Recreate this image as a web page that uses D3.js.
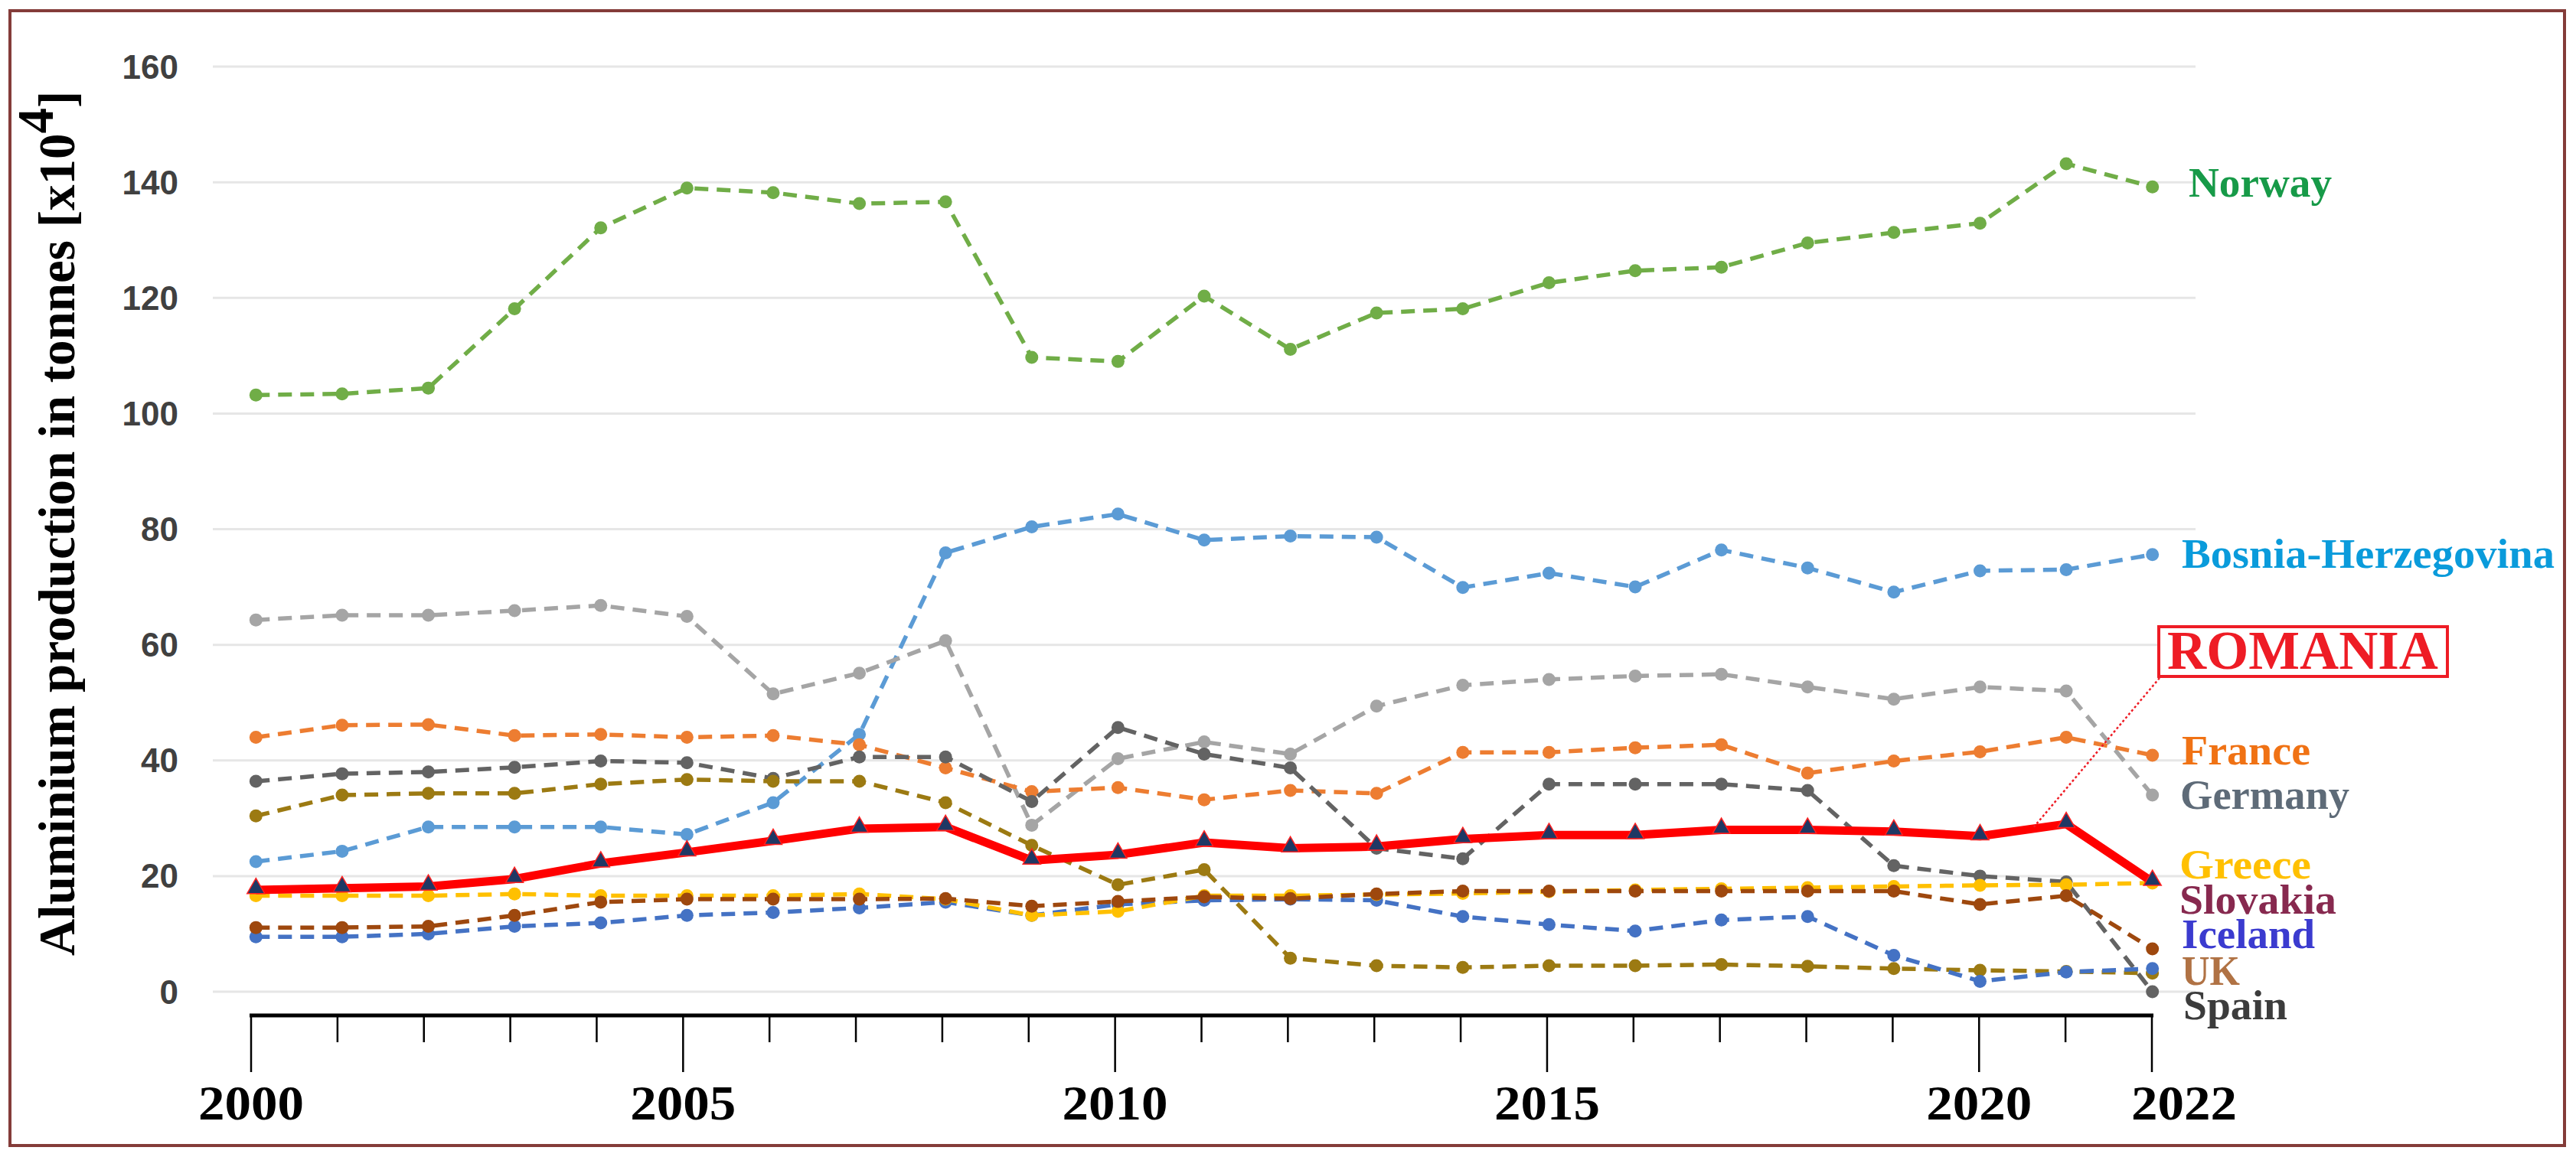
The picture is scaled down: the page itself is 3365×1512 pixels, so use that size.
<!DOCTYPE html>
<html><head><meta charset="utf-8">
<script src="https://cdn.jsdelivr.net/npm/d3@7/dist/d3.min.js"></script>
<style>html,body{margin:0;padding:0;background:#fff;} svg{display:block;}</style>
</head><body>
<script>
// ---------- DATA ----------
const years = [2000,2001,2002,2003,2004,2005,2006,2007,2008,2009,2010,2011,2012,2013,2014,2015,2016,2017,2018,2019,2020,2021,2022];
const norway   = [103.2,103.4,104.4,118.1,132.1,139.0,138.2,136.3,136.6,109.7,109.0,120.3,111.1,117.4,118.1,122.6,124.7,125.3,129.5,131.3,132.9,143.2,139.2];
const bosnia   = [22.5,24.3,28.5,28.5,28.5,27.2,32.7,44.5,75.9,80.4,82.6,78.1,78.8,78.6,69.9,72.4,70.0,76.4,73.3,69.1,72.8,73.0,75.6];
const germany  = [64.3,65.1,65.1,65.9,66.8,64.9,51.5,55.1,60.7,28.8,40.3,43.2,41.1,49.4,53.0,54.0,54.6,54.9,52.7,50.6,52.7,52.0,34.0];
const france   = [44.0,46.1,46.2,44.3,44.5,44.0,44.3,42.7,38.7,34.6,35.3,33.2,34.8,34.3,41.4,41.4,42.2,42.7,37.8,39.9,41.5,44.0,40.9];
const spain    = [36.4,37.7,38.0,38.8,39.9,39.6,36.9,40.6,40.6,32.9,45.7,41.1,38.7,24.8,23.0,35.9,35.9,35.9,34.8,21.8,20.0,19.0,0.0];
const uk       = [30.4,34.0,34.3,34.3,35.9,36.7,36.4,36.4,32.7,25.3,18.5,21.1,5.8,4.5,4.2,4.5,4.5,4.7,4.4,4.0,3.7,3.5,3.2];
const iceland  = [9.5,9.5,10.0,11.3,11.9,13.2,13.7,14.5,15.5,13.2,15.1,15.8,16.0,15.8,13.0,11.6,10.5,12.4,13.0,6.3,1.8,3.4,4.0];
const greece   = [16.6,16.6,16.6,16.9,16.6,16.6,16.6,16.9,16.0,13.2,13.9,16.6,16.6,16.8,17.0,17.3,17.6,17.8,18.0,18.2,18.4,18.5,18.8];
const slovakia = [11.1,11.1,11.3,13.2,15.5,16.0,16.0,16.0,16.1,14.8,15.6,16.4,16.1,16.9,17.4,17.4,17.4,17.4,17.4,17.4,15.1,16.6,7.4];
const romania  = [17.6,17.9,18.2,19.5,22.2,24.1,26.1,28.2,28.5,22.7,23.7,25.8,24.8,25.1,26.4,27.1,27.1,28.0,28.0,27.7,26.9,29.0,19.0];
const yTicks = [0,20,40,60,80,100,120,140,160];
const xTickLabels = [2000,2005,2010,2015,2020,2022];
const seriesNames = ["Norway","Bosnia-Herzegovina","Germany","France","Spain","UK","Iceland","Greece","Slovakia","ROMANIA"];

// ---------- SETUP ----------
const W = 3365, H = 1512;
const svg = d3.select("body").append("svg").attr("width", W).attr("height", H);
svg.append("rect").attr("width", W).attr("height", H).attr("fill", "#fff");

const x = d3.scalePoint().domain(years).range([278, 2868]).padding(0.5);
const y = d3.scaleLinear().domain([0, 160]).range([1296, 87]);
const xAx = d3.scaleLinear().domain([2000, 2022]).range([328, 2811]);

// border
svg.append("rect").attr("x", 13).attr("y", 14).attr("width", 3337).attr("height", 1483)
  .attr("fill", "none").attr("stroke", "#843C39").attr("stroke-width", 4);

// gridlines
svg.append("g").selectAll("line").data(yTicks).join("line")
  .attr("x1", 278).attr("x2", 2868)
  .attr("y1", d => y(d)).attr("y2", d => y(d))
  .attr("stroke", "#E6E6E6").attr("stroke-width", 3);

// y tick labels
svg.append("g").selectAll("text").data(yTicks).join("text")
  .attr("x", 233).attr("y", d => y(d))
  .attr("text-anchor", "end").attr("dominant-baseline", "central")
  .attr("font-family", "'Liberation Sans', Arial, sans-serif").attr("font-weight", "bold")
  .attr("font-size", 44).attr("fill", "#404040")
  .text(d => d);

// y title
const yt = svg.append("text")
  .attr("transform", "translate(97,684) rotate(-90)")
  .attr("text-anchor", "middle")
  .attr("font-family", "'Liberation Serif', 'Times New Roman', serif")
  .attr("font-weight", "bold").attr("font-size", 67).attr("fill", "#000");
yt.append("tspan").text("Aluminium production in tonnes [x10");
yt.append("tspan").attr("dy", -28).text("4");
yt.append("tspan").attr("dy", 28).text("]");

// ---------- SERIES ----------
const series = [
  {name: seriesNames[0], data: norway,   color: "#70AD47"},
  {name: seriesNames[1], data: bosnia,   color: "#5B9BD5"},
  {name: seriesNames[2], data: germany,  color: "#A5A5A5"},
  {name: seriesNames[3], data: france,   color: "#ED7D31"},
  {name: seriesNames[4], data: spain,    color: "#636363"},
  {name: seriesNames[5], data: uk,       color: "#9C7A12"},
  {name: seriesNames[6], data: iceland,  color: "#4472C4"},
  {name: seriesNames[7], data: greece,   color: "#FFC000"},
  {name: seriesNames[8], data: slovakia, color: "#9E480E"}
];
const line = d3.line().x((d, i) => x(years[i])).y(d => y(d));

series.forEach(s => {
  const g = svg.append("g");
  g.append("path").attr("d", line(s.data)).attr("fill", "none")
    .attr("stroke", s.color).attr("stroke-width", 5.5)
    .attr("stroke-dasharray", "18,11").attr("stroke-linejoin", "round");
  g.selectAll("circle").data(s.data).join("circle")
    .attr("cx", (d, i) => x(years[i])).attr("cy", d => y(d))
    .attr("r", 8.5).attr("fill", s.color);
});

// Romania
const rg = svg.append("g");
rg.append("path").attr("d", line(romania)).attr("fill", "none")
  .attr("stroke", "#FF0000").attr("stroke-width", 11).attr("stroke-linejoin", "round");
rg.selectAll("path.tri").data(romania).join("path").attr("class", "tri")
  .attr("d", d3.symbol().type(d3.symbolTriangle).size(230))
  .attr("transform", (d, i) => `translate(${x(years[i])},${y(d) - 2})`)
  .attr("fill", "#1F3864").attr("stroke", "#FF2020").attr("stroke-width", 1.5);

// ---------- BOTTOM AXIS OVERLAY ----------
const ax = svg.append("g");
ax.append("line").attr("x1", xAx(2000) - 2).attr("x2", xAx(2022) + 2)
  .attr("y1", 1327).attr("y2", 1327).attr("stroke", "#000").attr("stroke-width", 5);
ax.selectAll("line.tk").data(years).join("line").attr("class", "tk")
  .attr("x1", d => xAx(d)).attr("x2", d => xAx(d))
  .attr("y1", 1327).attr("y2", d => xTickLabels.includes(d) ? 1401 : 1362)
  .attr("stroke", "#000").attr("stroke-width", 2.5);
ax.selectAll("text").data(xTickLabels).join("text")
  .attr("x", d => xAx(d) + (d === 2022 ? 42 : 0)).attr("y", 1463)
  .attr("text-anchor", "middle")
  .attr("font-family", "'Liberation Serif', 'Times New Roman', serif")
  .attr("font-weight", "bold").attr("font-size", 64).attr("fill", "#000")
  .attr("textLength", 138).attr("lengthAdjust", "spacingAndGlyphs")
  .text(d => d);

// ---------- LABELS ----------
const labelFont = "'Liberation Serif', 'Times New Roman', serif";
const labels = [
  {t: seriesNames[0], x: 2859, y: 257,  c: "#179A48", w: 187},
  {t: seriesNames[1], x: 2850, y: 742,  c: "#0A9BDB", w: 487},
  {t: seriesNames[3], x: 2850, y: 999,  c: "#F07214", w: 168},
  {t: seriesNames[2], x: 2848, y: 1057, c: "#5E6B78", w: 221},
  {t: seriesNames[7], x: 2847, y: 1148, c: "#FFC000", w: 172},
  {t: seriesNames[8], x: 2847, y: 1194, c: "#87294F", w: 205},
  {t: seriesNames[6], x: 2850, y: 1239, c: "#3B3BCF", w: 174},
  {t: seriesNames[5], x: 2850, y: 1287, c: "#B07244", w: 76},
  {t: seriesNames[4], x: 2852, y: 1332, c: "#3C3C3C", w: 136}
];
svg.append("g").selectAll("text").data(labels).join("text")
  .attr("x", d => d.x).attr("y", d => d.y)
  .attr("font-family", labelFont).attr("font-weight", "bold")
  .attr("font-size", 55).attr("fill", d => d.c)
  .attr("textLength", d => d.w).attr("lengthAdjust", "spacingAndGlyphs")
  .text(d => d.t);

// ROMANIA callout
const iR = years.indexOf(2021);
const lx = (x(years[iR - 1]) + x(years[iR])) / 2 + 14;
const ly = y((romania[iR - 1] + romania[iR]) / 2) - 4;
svg.append("line").attr("x1", 2821).attr("y1", 886).attr("x2", lx).attr("y2", ly)
  .attr("stroke", "#EE1C25").attr("stroke-width", 2.5).attr("stroke-dasharray", "3,3");
svg.append("rect").attr("x", 2820).attr("y", 819).attr("width", 377).attr("height", 65)
  .attr("fill", "#fff").attr("stroke", "#EE1C25").attr("stroke-width", 4);
svg.append("text").attr("x", 3008).attr("y", 874).attr("text-anchor", "middle")
  .attr("font-family", labelFont).attr("font-weight", "bold")
  .attr("font-size", 71).attr("fill", "#EE1C25")
  .attr("textLength", 354).attr("lengthAdjust", "spacingAndGlyphs")
  .text(seriesNames[9]);
</script>
</body></html>
